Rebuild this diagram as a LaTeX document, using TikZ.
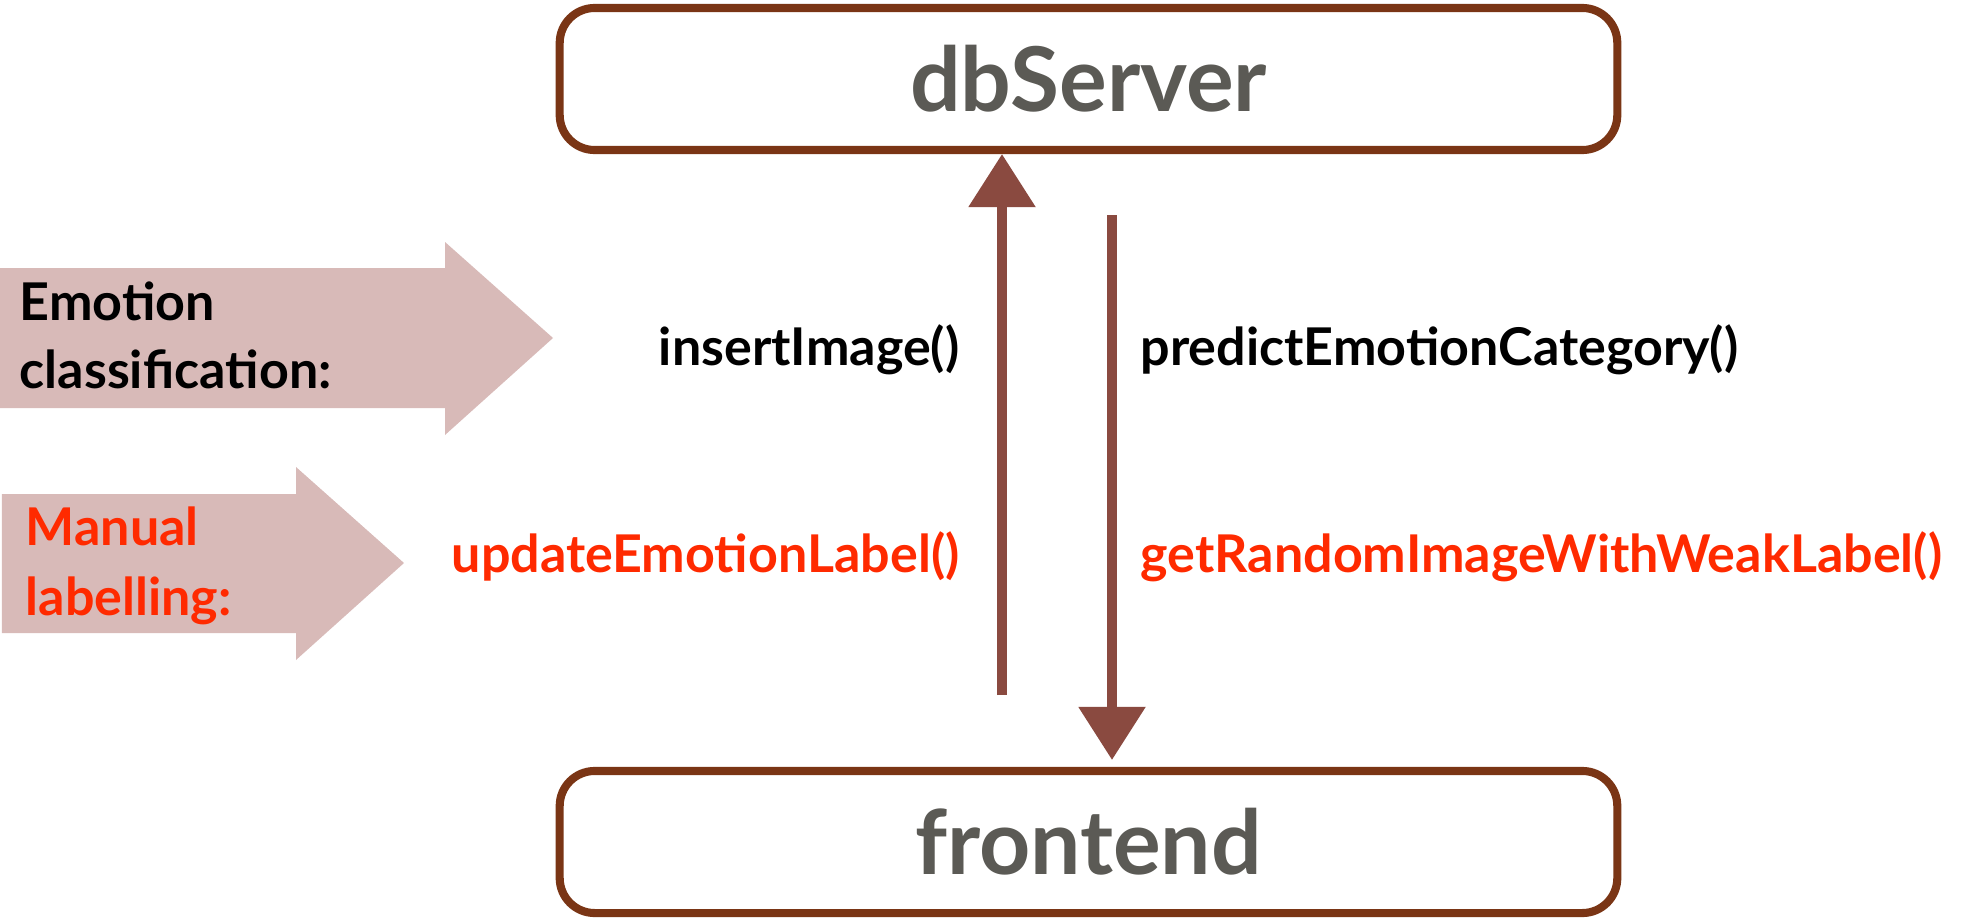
\documentclass[tikz,border=0pt]{standalone}
\usepackage{fontspec}
\setmainfont{Lato}
\usetikzlibrary{arrows.meta}

\definecolor{boxbrown}{HTML}{7A3515}
\definecolor{arrowbrown}{HTML}{8A4A40}
\definecolor{bannerpink}{HTML}{D8BAB8}
\definecolor{labelred}{HTML}{FF2A00}
\definecolor{servergray}{HTML}{5B5A55}

\begin{document}
\begin{tikzpicture}[x=0.01cm, y=-0.01cm,
  server/.style={draw=boxbrown, line width=2.3pt, rounded corners=0.35cm,
    minimum width=10.57cm, minimum height=1.42cm, text=servergray,
    font=\fontsize{25.4}{30}\selectfont\bfseries},
  call/.style={inner sep=0pt, font=\fontsize{14.8}{18}\selectfont\bfseries},
  flow/.style={draw=arrowbrown, line width=2.6pt,
    -{Triangle[width=0.65cm, length=0.53cm]}},
  banner/.style={fill=bannerpink}]

\useasboundingbox (0,0) rectangle (1963,921);

\fill[banner] (0,268) -- (445,268) -- (445,242) -- (553,338)
  -- (445,435) -- (445,408) -- (0,408) -- cycle;
\fill[banner] (2,494) -- (296,494) -- (296,467) -- (404,563)
  -- (296,660) -- (296,633) -- (2,633) -- cycle;

\begin{scope}[every node/.style={call, anchor=base west}]
\node(emo) at(19,320) {Emotion};
\node(cls) at(19,388) {classification:};
\node[text=labelred](man) at(25,545) {Manual};
\node[text=labelred](lab) at(25,615) {labelling:};
\end{scope}

\node[server](db) at(1088.5,79) {dbServer};
\node[server](fe) at(1088.5,842) {frontend};

\coordinate(insfoot) at(1002,695);
\coordinate(predtop) at(1112,215);
\draw[flow] (insfoot) -- (insfoot |- db.south);
\draw[flow, shorten >=0.07cm] (predtop) -- (predtop |- fe.north);

\node[call, anchor=base east](ins) at(960,365) {insertImage()};
\node[call, anchor=base east, text=labelred](upd) at(960,572) {updateEmotionLabel()};
\node[call, anchor=base west](pred) at(1140,365) {predictEmotionCategory()};
\node[call, anchor=base west, text=labelred](rnd) at(1140,572) {getRandomImageWithWeakLabel()};

\end{tikzpicture}
\end{document}
